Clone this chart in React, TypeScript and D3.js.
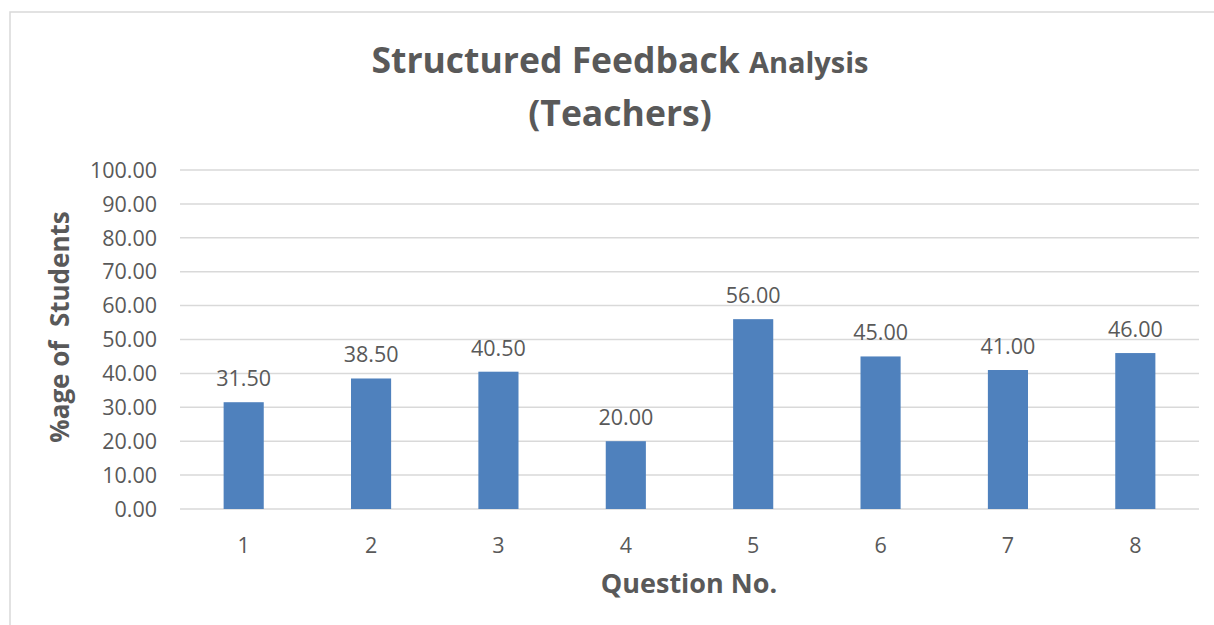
import React from "react";
import * as d3 from "d3";

const questions = ["1", "2", "3", "4", "5", "6", "7", "8"];
const percentages = [31.5, 38.5, 40.5, 20.0, 56.0, 45.0, 41.0, 46.0];
const yTicks = [0, 10, 20, 30, 40, 50, 60, 70, 80, 90, 100];

const width = 1214;
const height = 625;
const plot = { left: 180, right: 1199, top: 170, bottom: 509 };
const textColor = "#595959";
const gridColor = "#D9D9D9";
const barColor = "#4F81BD";
const font = "'Open Sans', sans-serif";

export default function App() {
  const xScale = d3
    .scaleBand()
    .domain(questions)
    .range([plot.left, plot.right])
    .padding(0);

  const yScale = d3
    .scaleLinear()
    .domain([0, 100])
    .range([plot.bottom, plot.top]);

  const barWidth = xScale.bandwidth() * 0.315;

  return (
    <svg
      width={width}
      height={height}
      style={{ position: "absolute", left: 0, top: 0, background: "#fff" }}
      fontFamily={font}
    >
      {/* chart frame */}
      <rect x={10} y={12} width={width + 20} height={height + 20} fill="#fff" stroke={gridColor} strokeWidth={1.5} />

      {/* title */}
      <text x={620} y={73} textAnchor="middle" fill={textColor} fontWeight="bold">
        <tspan fontSize={35.5}>Structured Feedback </tspan>
        <tspan fontSize={29}>Analysis</tspan>
      </text>
      <text x={620} y={126} textAnchor="middle" fill={textColor} fontWeight="bold" fontSize={35.5}>
        (Teachers)
      </text>

      {/* gridlines */}
      {yTicks.map((t) => (
        <line
          key={"g" + t}
          x1={plot.left}
          x2={plot.right}
          y1={yScale(t)}
          y2={yScale(t)}
          stroke={gridColor}
          strokeWidth={1.5}
        />
      ))}

      {/* y tick labels */}
      {yTicks.map((t) => (
        <text
          key={"t" + t}
          x={157}
          y={yScale(t)}
          dy="0.36em"
          textAnchor="end"
          fontSize={21.5}
          fill={textColor}
        >
          {t.toFixed(2)}
        </text>
      ))}

      {/* bars */}
      {percentages.map((v, i) => {
        const cx = xScale(questions[i])! + xScale.bandwidth() / 2;
        return (
          <g key={"b" + i}>
            <rect
              x={cx - barWidth / 2}
              y={yScale(v)}
              width={barWidth}
              height={yScale(0) - yScale(v)}
              fill={barColor}
            />
            <text
              x={cx}
              y={yScale(v) - 16}
              textAnchor="middle"
              fontSize={21.5}
              fill={textColor}
            >
              {v.toFixed(2)}
            </text>
          </g>
        );
      })}

      {/* x tick labels */}
      {questions.map((q) => (
        <text
          key={"x" + q}
          x={xScale(q)! + xScale.bandwidth() / 2}
          y={553}
          textAnchor="middle"
          fontSize={21.5}
          fill={textColor}
        >
          {q}
        </text>
      ))}

      {/* axis titles */}
      <text x={689} y={593} textAnchor="middle" fontSize={27} fontWeight="bold" fill={textColor}>
        Question No.
      </text>
      <text
        transform={`translate(69, ${327}) rotate(-90)`}
        textAnchor="middle"
        fontSize={26}
        fontWeight="bold"
        fill={textColor}
        style={{ whiteSpace: "pre" }}
      >
        {"%age of  Students"}
      </text>
    </svg>
  );
}
